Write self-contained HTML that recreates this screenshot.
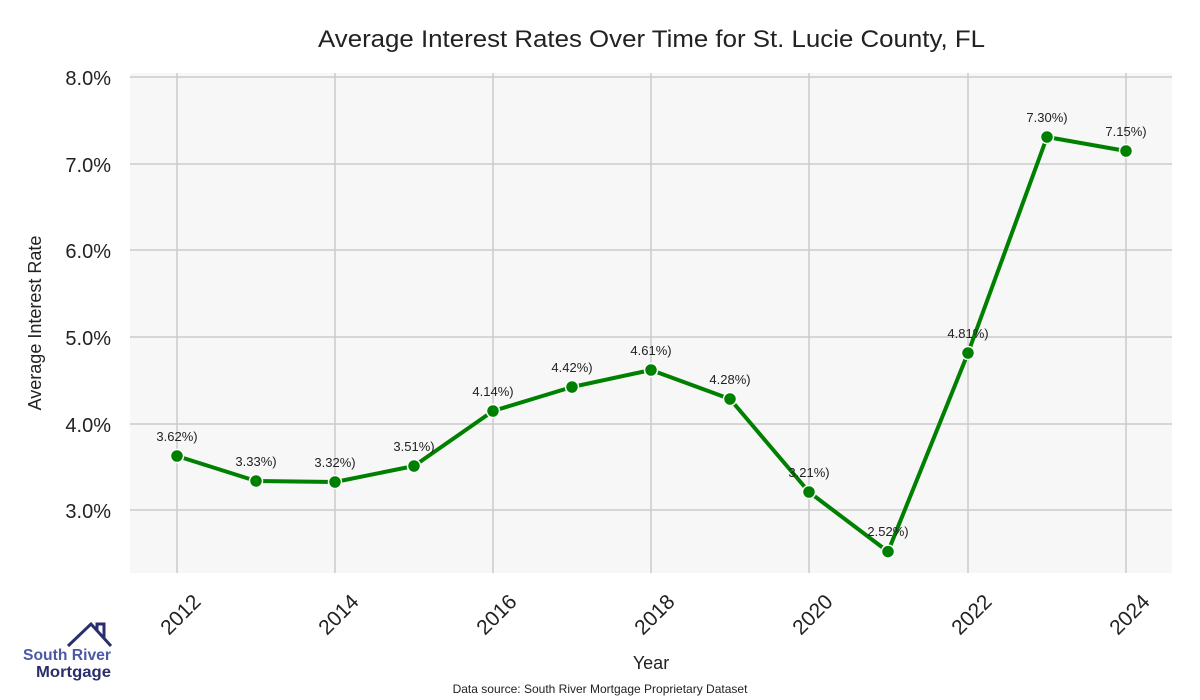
<!DOCTYPE html>
<html><head><meta charset="utf-8"><style>body{margin:0;background:#fff}svg{display:block}</style></head><body>
<svg width="1200" height="700" xmlns="http://www.w3.org/2000/svg" font-family="Liberation Sans, sans-serif">
<rect width="1200" height="700" fill="#fff"/>
<rect x="130" y="73" width="1042" height="500" fill="#f7f7f7"/>
<g stroke="#cccccc" stroke-width="1.5">
<line x1="130" x2="1172" y1="77" y2="77"/><line x1="130" x2="1172" y1="164" y2="164"/><line x1="130" x2="1172" y1="250" y2="250"/><line x1="130" x2="1172" y1="337" y2="337"/><line x1="130" x2="1172" y1="424" y2="424"/><line x1="130" x2="1172" y1="510" y2="510"/>
<line x1="177" x2="177" y1="73" y2="573"/><line x1="335" x2="335" y1="73" y2="573"/><line x1="493" x2="493" y1="73" y2="573"/><line x1="651" x2="651" y1="73" y2="573"/><line x1="809" x2="809" y1="73" y2="573"/><line x1="968" x2="968" y1="73" y2="573"/><line x1="1126" x2="1126" y1="73" y2="573"/>
</g>
<text x="318" y="47" font-size="24" textLength="667" lengthAdjust="spacingAndGlyphs" fill="#222">Average Interest Rates Over Time for St. Lucie County, FL</text>
<g font-size="20" fill="#222" text-anchor="end">
<text x="111" y="85">8.0%</text><text x="111" y="172">7.0%</text><text x="111" y="258">6.0%</text><text x="111" y="345">5.0%</text><text x="111" y="432">4.0%</text><text x="111" y="518">3.0%</text>
</g>
<text transform="translate(41,323) rotate(-90)" font-size="18" text-anchor="middle" fill="#222">Average Interest Rate</text>
<g font-size="21" fill="#222" text-anchor="end">
<text transform="translate(202,603) rotate(-45)">2012</text>
<text transform="translate(360,603) rotate(-45)">2014</text>
<text transform="translate(518,603) rotate(-45)">2016</text>
<text transform="translate(676,603) rotate(-45)">2018</text>
<text transform="translate(834,603) rotate(-45)">2020</text>
<text transform="translate(993,603) rotate(-45)">2022</text>
<text transform="translate(1151,603) rotate(-45)">2024</text>
</g>
<text x="651" y="669" font-size="18" text-anchor="middle" fill="#222">Year</text>
<text x="600" y="693" font-size="12" text-anchor="middle" fill="#222">Data source: South River Mortgage Proprietary Dataset</text>
<polyline fill="none" stroke="#008000" stroke-width="4" stroke-linejoin="round" points="177,456 256,481 335,482 414,466 493,411 572,387 651,370 730,399 809,492 888,551.6 968,353 1047,137 1126,151"/>
<g fill="#008000" stroke="#fff" stroke-width="1.5">
<circle cx="177" cy="456" r="6.5"/><circle cx="256" cy="481" r="6.5"/><circle cx="335" cy="482" r="6.5"/><circle cx="414" cy="466" r="6.5"/><circle cx="493" cy="411" r="6.5"/><circle cx="572" cy="387" r="6.5"/><circle cx="651" cy="370" r="6.5"/><circle cx="730" cy="399" r="6.5"/><circle cx="809" cy="492" r="6.5"/><circle cx="888" cy="551.6" r="6.5"/><circle cx="968" cy="353" r="6.5"/><circle cx="1047" cy="137" r="6.5"/><circle cx="1126" cy="151" r="6.5"/>
</g>
<g font-size="13" fill="#222" text-anchor="middle">
<text x="177" y="441">3.62%)</text><text x="256" y="466">3.33%)</text><text x="335" y="467">3.32%)</text><text x="414" y="451">3.51%)</text><text x="493" y="396">4.14%)</text><text x="572" y="372">4.42%)</text><text x="651" y="355">4.61%)</text><text x="730" y="384">4.28%)</text><text x="809" y="477">3.21%)</text><text x="888" y="536">2.52%)</text><text x="968" y="338">4.81%)</text><text x="1047" y="122">7.30%)</text><text x="1126" y="136">7.15%)</text>
</g>
<g fill="none" stroke="#2a2f6b" stroke-width="3">
<polyline points="68,646 91,624 111,646"/><polyline points="97,630 97,624 104,624 104,638"/>
</g>
<text x="23" y="660" font-size="16" font-weight="bold" fill="#4a5aa8" textLength="88" lengthAdjust="spacingAndGlyphs">South River</text>
<text x="36" y="677" font-size="16" font-weight="bold" fill="#2a2f6b" textLength="75" lengthAdjust="spacingAndGlyphs">Mortgage</text>
</svg>
</body></html>
